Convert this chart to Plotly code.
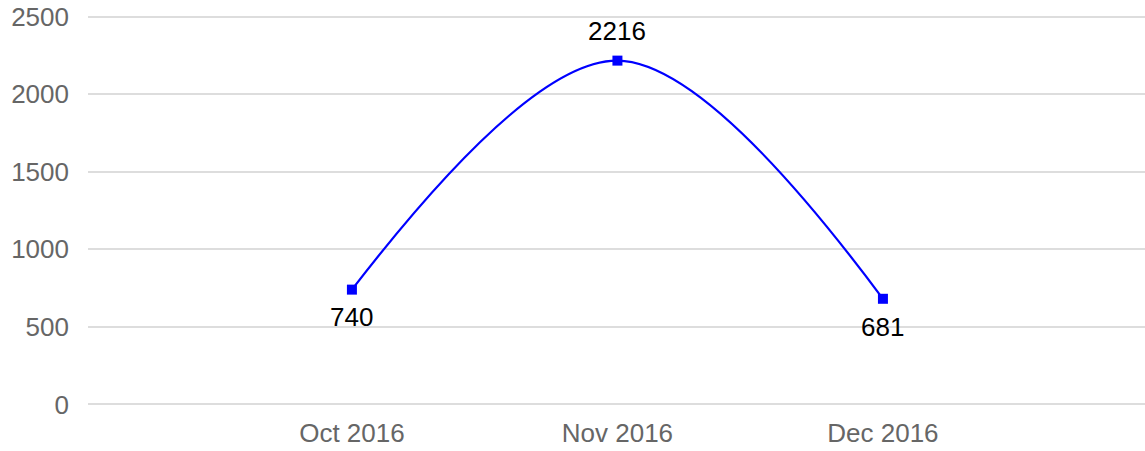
import plotly.graph_objects as go

categories = ["Oct 2016", "Nov 2016", "Dec 2016"]
values = [740, 2216, 681]
label_shifts = [-27, 30, -28]
y_ticks = [0, 500, 1000, 1500, 2000, 2500]

FONT = "Arial, Liberation Sans, sans-serif"
xs = list(range(len(categories)))

fig = go.Figure()
fig.add_trace(go.Scatter(
    x=xs,
    y=values,
    mode="lines+markers",
    line=dict(color="#0000ff", width=2.2, shape="spline", smoothing=1.0),
    marker=dict(symbol="square", size=10, color="#0000ff"),
    hoverinfo="skip",
    cliponaxis=False,
))

for x, v, s in zip(xs, values, label_shifts):
    fig.add_annotation(
        x=x, y=v, text=str(v), showarrow=False, yshift=s,
        font=dict(family=FONT, size=26, color="#000000"),
    )

fig.update_layout(
    width=1145, height=451,
    margin=dict(l=88, r=0, t=15, b=45),
    paper_bgcolor="white",
    plot_bgcolor="white",
    showlegend=False,
    font=dict(family=FONT),
)
fig.update_xaxes(
    range=[-0.994, 2.987],
    tickmode="array",
    tickvals=xs,
    ticktext=categories,
    showgrid=False,
    zeroline=False,
    showline=False,
    ticks="",
    ticklabelstandoff=9,
    tickfont=dict(family=FONT, size=26, color="#666666"),
)
fig.update_yaxes(
    range=[-10, 2510],
    tickmode="array",
    tickvals=y_ticks,
    showgrid=True,
    gridcolor="#dddddd",
    gridwidth=2,
    zeroline=False,
    showline=False,
    ticks="",
    ticklabelstandoff=18,
    tickfont=dict(family=FONT, size=26, color="#666666"),
)

fig.write_html(
    "out.html",
    config={"displayModeBar": False},
    post_script="document.body.style.margin='0';",
)
